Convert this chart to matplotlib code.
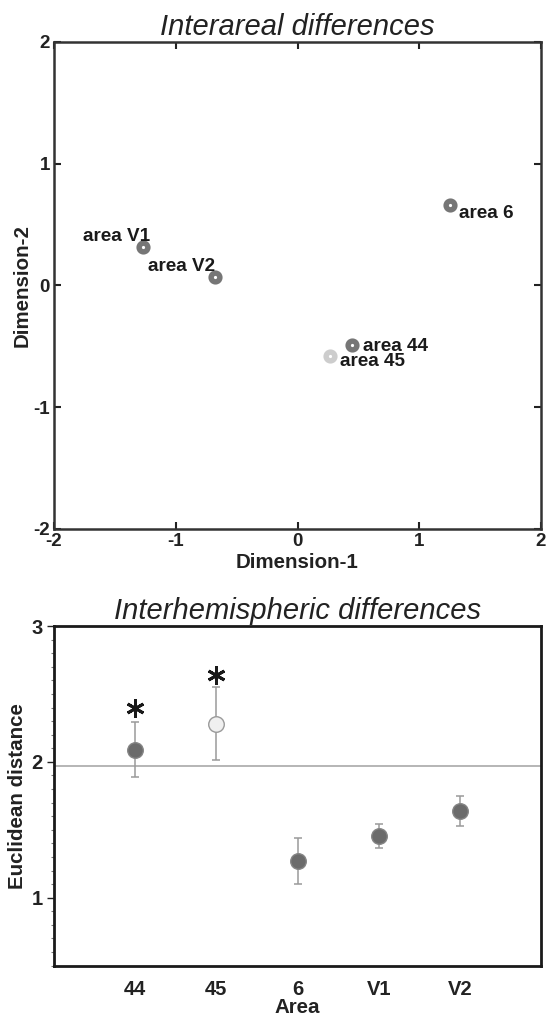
import matplotlib
matplotlib.use("Agg")
import matplotlib.pyplot as plt
from matplotlib.ticker import MultipleLocator

plt.rcParams['font.family'] = ['Liberation Sans', 'DejaVu Sans']
plt.rcParams['axes.unicode_minus'] = False

# ---- Data: interareal MDS ----
mds_areas = ['area V1', 'area V2', 'area 6', 'area 44', 'area 45']
mds_dim1 = [-1.27, -0.68, 1.25, 0.45, 0.27]
mds_dim2 = [0.315, 0.068, 0.66, -0.49, -0.58]
mds_colors = ['#767676', '#767676', '#767676', '#767676', '#cdcdcd']

# ---- Data: interhemispheric ----
hemi_areas = ['44', '45', '6', 'V1', 'V2']
hemi_mean = [2.09, 2.28, 1.27, 1.455, 1.635]
hemi_err = [0.20, 0.27, 0.17, 0.09, 0.11]
hemi_fill = ['#6b6b6b', '#f0f0f0', '#6b6b6b', '#6b6b6b', '#6b6b6b']
hemi_edge = ['#858585', '#9a9a9a', '#858585', '#858585', '#858585']
hemi_sig = [True, True, False, False, False]
ref_level = 1.97
sig_offset = [0.305, 0.36]

fig = plt.figure(figsize=(5.47, 10.17), dpi=100)

# ================= Top panel =================
ax1 = fig.add_axes([54/547, 1-529/1017, 487/547, 487/1017])
for x, y, c in zip(mds_dim1, mds_dim2, mds_colors):
    ax1.plot([x], [y], 'o', ms=6.3, mfc='white', mec=c, mew=3.9, zorder=3)

# label placement (offsets in points: dx, dy, ha)
label_pos = {
    'area V1': (5, 8, 'right'),
    'area V2': (-48, 8, 'left'),
    'area 6': (7, -6, 'left'),
    'area 44': (8, -1, 'left'),
    'area 45': (7, -4, 'left'),
}
for name, x, y in zip(mds_areas, mds_dim1, mds_dim2):
    dx, dy, ha = label_pos[name]
    ax1.annotate(name, (x, y), xytext=(dx, dy), textcoords='offset points',
                 ha=ha, va='center', fontsize=13.6, fontweight='bold',
                 color='#1a1a1a')

ax1.set_xlim(-2, 2)
ax1.set_ylim(-2, 2)
ax1.set_xticks([-2, -1, 0, 1, 2])
ax1.set_yticks([-2, -1, 0, 1, 2])
ax1.tick_params(direction='in', length=5, width=1.5, top=True, right=True,
                labelsize=13.5, pad=3, colors='#222222')
for lab in ax1.get_xticklabels() + ax1.get_yticklabels():
    lab.set_fontweight('bold')
for sp in ax1.spines.values():
    sp.set_linewidth(1.8)
    sp.set_color('#333333')
ax1.set_xlabel('Dimension-1', fontsize=14.8, fontweight='bold', labelpad=2,
               color='#222222')
ax1.set_ylabel('Dimension-2', fontsize=14.8, fontweight='bold', labelpad=1,
               color='#222222')
ax1.set_title('Interareal differences', fontsize=21, style='italic', pad=5,
              color='#222222')

# ================= Bottom panel =================
ax2 = fig.add_axes([54/547, 1-965.6/1017, 487/547, 339.6/1017])
xpos = list(range(len(hemi_areas)))
ax2.axhline(ref_level, color='#b0b0b0', lw=1.3, zorder=1)
for x, m, e, fc, ec in zip(xpos, hemi_mean, hemi_err, hemi_fill, hemi_edge):
    ax2.errorbar([x], [m], yerr=[e], fmt='none', ecolor='#9a9a9a',
                 elinewidth=1.1, capsize=2.6, capthick=1.1, zorder=2)
    ax2.plot([x], [m], 'o', ms=11.2, mfc=fc, mec=ec, mew=1.0, zorder=3)
k = 0
for x, m, e, s in zip(xpos, hemi_mean, hemi_err, hemi_sig):
    if s:
        ax2.plot([x], [m + sig_offset[k]], marker=(6, 2, 0), ms=13,
                 mew=2.1, color='#1a1a1a', zorder=4)
        k += 1

ax2.set_xlim(-1, 5)
ax2.set_ylim(0.5, 3)
ax2.set_xticks(xpos)
ax2.set_xticklabels(hemi_areas)
ax2.set_yticks([1, 2, 3])
ax2.yaxis.set_minor_locator(MultipleLocator(0.1))
ax2.tick_params(axis='x', length=0, pad=10.5, labelsize=14.5, colors='#222222')
ax2.tick_params(axis='y', which='major', direction='out', length=5, width=1.0,
                labelsize=14.5, pad=3, colors='#222222')
ax2.tick_params(axis='y', which='minor', direction='out', length=2.5,
                width=0.8, colors='#777777')
for lab in ax2.get_xticklabels() + ax2.get_yticklabels():
    lab.set_fontweight('bold')
for sp in ax2.spines.values():
    sp.set_linewidth(2.0)
    sp.set_color('#1a1a1a')
ax2.set_xlabel('Area', fontsize=14.8, fontweight='bold', labelpad=-1,
               color='#222222')
ax2.set_ylabel('Euclidean distance', fontsize=14.8, fontweight='bold',
               labelpad=3, color='#222222')
ax2.set_title('Interhemispheric differences', fontsize=21, style='italic',
              pad=5, color='#222222')

fig.savefig('out.png', dpi=100)
